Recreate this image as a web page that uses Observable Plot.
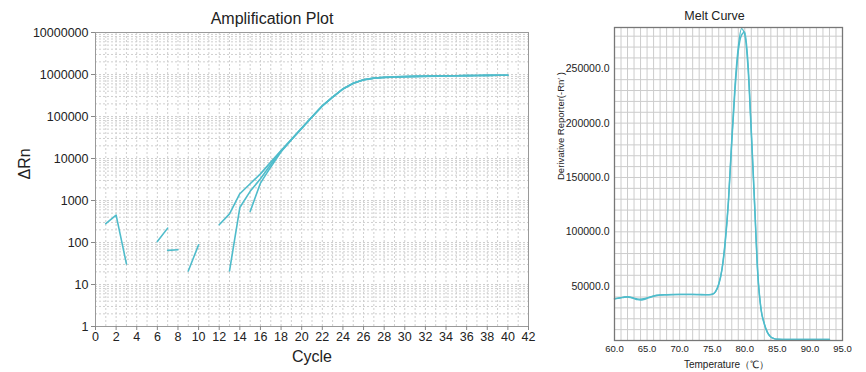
<!DOCTYPE html>
<html><head><meta charset="utf-8">
<script src="https://cdn.jsdelivr.net/npm/d3@7"></script>
<script src="https://cdn.jsdelivr.net/npm/@observablehq/plot@0.6"></script>
<style>
body{margin:0;background:#fff;font-family:"Liberation Sans",Arial,sans-serif;}
#wrap{position:relative;width:866px;height:372px;overflow:hidden;}
#amp{position:absolute;left:0;top:0}
#melt{position:absolute;left:540px;top:0}
</style></head><body>
<div id="wrap"><div id="amp"></div><div id="melt"></div></div>
<script>
// ---------- Amplification plot data ----------
const cycles = [1,2,3,4,5,6,7,8,9,10,11,12,13,14,15,16,17,18,19,20,21,22,23,24,25,26,27,28,29,30,31,32,33,34,35,36,37,38,39,40];
const well1 = [280,450,31,null,null,105,220,null,null,null,null,265,480,1450,2500,4300,8200,15500,28500,53000,98000,180000,290000,455000,620000,750000,820000,855000,872000,885000,895000,905000,915000,925000,935000,942000,948000,953000,958000,962000];
const well2 = [null,null,null,null,null,null,65,67,null,null,null,null,21,680,1650,3300,7200,15000,28000,52000,97000,178000,288000,450000,615000,745000,818000,860000,885000,905000,918000,922000,925000,930000,936000,942000,948000,953000,958000,962000];
const well3 = [null,null,null,null,null,null,null,null,21,88,null,null,null,null,550,2600,6300,14500,28000,52500,97500,179000,289000,452000,618000,748000,815000,850000,868000,880000,892000,903000,914000,924000,934000,941000,947000,952000,957000,961000];
const ampXTicks = [0,2,4,6,8,10,12,14,16,18,20,22,24,26,28,30,32,34,36,38,40,42];
const ampYTicks = [1,10,100,1000,10000,100000,1000000,10000000];

// ---------- Melt curve data ----------
const temps = [60,60.5,61,61.5,62,62.5,63,63.5,64,64.5,65,65.5,66,66.5,67,68,69,70,71,72,73,74,74.5,75,75.5,76,76.5,77,77.5,78,78.5,79,79.5,80,80.5,81,81.5,82,82.5,83,83.5,84,84.5,85,86,87,88,89,90,91,92,93];
const melt1 = [38500,39000,39500,40000,40200,39800,39000,38300,38000,38400,39200,40200,41000,41600,41900,42100,42300,42400,42400,42400,42300,42200,42200,42600,45000,52000,66000,92000,130000,185000,235000,270000,287000,281000,250000,190000,125000,60000,28000,15000,7000,3200,1800,1200,1000,900,900,900,900,900,900,900];
const melt2 = [38200,38800,39300,39800,40000,39500,38600,37600,37200,37700,38700,39800,40700,41400,41800,42000,42200,42300,42300,42300,42200,42100,42100,42500,44800,51500,65000,90000,128000,182000,230000,266000,281000,284000,255000,194000,128000,62000,29000,15500,7200,3300,1800,1200,1000,900,900,900,900,900,900,900];
const meltXTicks = [60,65,70,75,80,85,90,95];
const meltYTicks = [50000,100000,150000,200000,250000];

const lineColor = "#4fbccb";

// build tables
const ampRows = [];
[["w1",well1],["w2",well2],["w3",well3]].forEach(([name, vals]) => {
  cycles.forEach((c,i) => ampRows.push({series:name, cycle:c, value: vals[i] == null ? NaN : vals[i]}));
});
const meltRows = [];
[["m1",melt1],["m2",melt2]].forEach(([name, vals]) => {
  temps.forEach((t,i) => meltRows.push({series:name, temp:t, value: vals[i]}));
});

// grid positions (scale ticks)
const ampGridX = d3.range(0, 43, 1);
const ampGridY = [];
for (let e = 0; e < 7; e++) for (let k = 1; k <= 9; k++) ampGridY.push(k * Math.pow(10, e));
ampGridY.push(1e7);
const meltGridX = d3.range(60, 96, 1);
const meltGridY = d3.range(0, 290000, 10000);

const amp = Plot.plot({
  width: 545, height: 372,
  marginLeft: 95, marginRight: 17, marginTop: 32, marginBottom: 46,
  style: {fontFamily: "'Liberation Sans', Arial, sans-serif", fontSize: "12.5px", color: "#222", background: "white", overflow: "visible"},
  x: {domain: [0, 42]},
  y: {type: "log", domain: [1, 1e7]},
  marks: [
    Plot.ruleX(ampGridX, {x: d => d, stroke: "#cfcfcf", strokeDasharray: "2,2", strokeWidth: 1}),
    Plot.ruleY(ampGridY, {y: d => d, stroke: "#cfcfcf", strokeDasharray: "2,2", strokeWidth: 1}),
    Plot.frame({stroke: "#9a9a9a"}),
    Plot.line(ampRows, {x: "cycle", y: "value", z: "series", stroke: lineColor, strokeWidth: 1.6}),
    Plot.axisX({ticks: ampXTicks, tickSize: 4, tickPadding: 2, stroke: "#888", label: null, fontSize: 12.5}),
    Plot.axisY({ticks: ampYTicks, tickSize: 4, tickPadding: 3, tickFormat: d3.format("d"), stroke: "#888", label: null, fontSize: 12.5}),
    Plot.text(["Amplification Plot"], {text: d => d, frameAnchor: "top", lineAnchor: "top", dx: -40, dy: -20, fontSize: 16, fill: "#222"}),
    Plot.text(["Cycle"], {text: d => d, frameAnchor: "bottom", lineAnchor: "bottom", dy: 35, fontSize: 16, fill: "#222"}),
    Plot.text(["ΔRn"], {text: d => d, frameAnchor: "left", dx: -71, rotate: -90, fontSize: 16, fill: "#222"})
  ]
});
document.getElementById("amp").appendChild(amp);

const melt = Plot.plot({
  width: 326, height: 372,
  marginLeft: 74, marginRight: 24, marginTop: 27, marginBottom: 32,
  style: {fontFamily: "'Liberation Sans', Arial, sans-serif", fontSize: "10.5px", color: "#222", background: "white", overflow: "visible"},
  x: {domain: [60, 95]},
  y: {domain: [0, 288000]},
  marks: [
    Plot.ruleX(meltGridX, {x: d => d, stroke: "#cccccc", strokeWidth: 1}),
    Plot.ruleY(meltGridY, {y: d => d, stroke: "#cccccc", strokeWidth: 1}),
    Plot.line(meltRows, {x: "temp", y: "value", z: "series", stroke: lineColor, strokeWidth: 1.4, curve: "monotone-x"}),
    Plot.frame({stroke: "#777", strokeWidth: 1.3}),
    Plot.axisX({ticks: meltXTicks, tickSize: 0, tickPadding: 5, tickFormat: d3.format(".1f"), label: null, fontSize: 9.5}),
    Plot.axisY({ticks: meltYTicks, tickSize: 0, tickPadding: 5, tickFormat: d3.format(".1f"), label: null, fontSize: 10.5}),
    Plot.text(["Melt Curve"], {text: d => d, frameAnchor: "top", lineAnchor: "top", dx: -14, dy: -16, fontSize: 12.5, fill: "#222"}),
    Plot.text(["Temperature（℃）"], {text: d => d, frameAnchor: "bottom", lineAnchor: "bottom", dx: -2, dy: 27, fontSize: 10, fill: "#222"}),
    Plot.text(["Derivative Reporter(-Rn′ )"], {text: d => d, frameAnchor: "left", dx: -54, dy: -4, rotate: -90, fontSize: 9.5, fill: "#222"})
  ]
});
document.getElementById("melt").appendChild(melt);
</script>
</body></html>
